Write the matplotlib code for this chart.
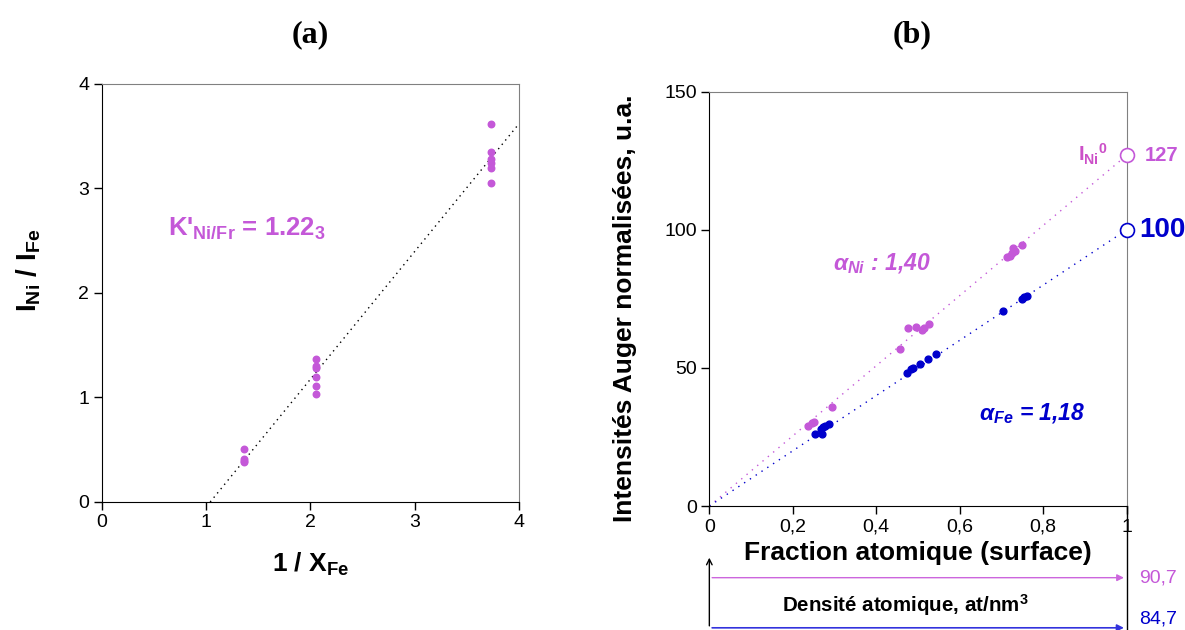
import matplotlib

matplotlib.use("Agg")
import matplotlib.pyplot as plt

plt.rcParams['font.family'] = ['Liberation Sans', 'DejaVu Sans']
plt.rcParams['mathtext.default'] = 'regular'

MAGENTA = '#c458d8'
PINK = '#cc50c8'
BLUE = '#0000cc'
GRAY = '#808080'

# panel (a): I_Ni / I_Fe against 1 / X_Fe
inv_x_fe = [1.36, 1.36, 1.36, 1.36,
            2.05, 2.05, 2.05, 2.05, 2.05, 2.05,
            3.73, 3.73, 3.73, 3.73, 3.73, 3.73]
ratio_ni_fe = [0.51, 0.41, 0.39, 0.38,
               1.37, 1.30, 1.28, 1.20, 1.11, 1.03,
               3.62, 3.35, 3.28, 3.24, 3.20, 3.05]
fit_x = [1.04, 4.0]
fit_y = [0.0, 3.62]

# panel (b): normalised Auger intensities against surface atomic fraction
ni_frac = [0.237, 0.245, 0.251, 0.295, 0.457, 0.476, 0.495, 0.509, 0.514,
           0.526, 0.714, 0.720, 0.726, 0.728, 0.732, 0.748]
ni_int = [29.1, 30.0, 30.6, 36.0, 57.0, 64.3, 64.8, 63.7, 64.3,
          65.8, 90.0, 90.6, 91.5, 93.3, 92.5, 94.5]
fe_frac = [0.252, 0.267, 0.270, 0.273, 0.277, 0.286, 0.473, 0.482, 0.489,
           0.505, 0.524, 0.543, 0.704, 0.748, 0.754, 0.760]
fe_int = [26.0, 27.8, 26.0, 28.6, 28.9, 29.6, 48.3, 49.5, 50.1,
          51.4, 53.3, 55.2, 70.7, 75.1, 75.6, 76.1]
line_x = [0.0, 1.0]
ni_line = [0.0, 127.0]
fe_line = [0.0, 100.0]
ni_pure = 127
fe_pure = 100
ni_density = '90,7'
fe_density = '84,7'

b_xticks = [0, 0.2, 0.4, 0.6, 0.8, 1]
b_xlabels = ['0', '0,2', '0,4', '0,6', '0,8', '1']
b_yticks = [0, 50, 100, 150]


def style_axes(ax):
    for side in ('top', 'right'):
        ax.spines[side].set_color(GRAY)
    ax.tick_params(direction='out', length=6, width=1, labelsize=14,
                   top=False, right=False, pad=3)


fig = plt.figure(figsize=(11.85, 6.3), dpi=100)

# ---- (a)
ax1 = fig.add_axes([0.0858, 0.2032, 0.3522, 0.6635])
style_axes(ax1)
ax1.plot(fit_x, fit_y, color='black', lw=1, linestyle=(0, (1, 3)))
ax1.scatter(inv_x_fe, ratio_ni_fe, s=22, color=MAGENTA, zorder=3)
ax1.set_xlim(0, 4)
ax1.set_ylim(0, 4)
ax1.set_xticks(range(5))
ax1.set_yticks(range(5))
ax1.set_xlabel('1 / X$_{Fe}$', fontsize=19, fontweight='bold', labelpad=14)
ax1.set_ylabel('I$_{Ni}$ / I$_{Fe}$', fontsize=20, fontweight='bold')
ax1.yaxis.set_label_coords(-0.141, 0.555)
ax1.text(0.64, 2.555, "K'$_{Ni/Fr}$ = 1.22$_3$", color=MAGENTA,
         fontsize=18.5, fontweight='bold', ha='left', va='baseline')

# ---- (b)
ax2 = fig.add_axes([0.5986, 0.1968, 0.3522, 0.6576])
style_axes(ax2)
ax2.plot(line_x, ni_line, color=MAGENTA, lw=1, linestyle=(0, (1, 4)))
ax2.plot(line_x, fe_line, color=BLUE, lw=1, linestyle=(0, (1, 4)))
ax2.scatter(ni_frac, ni_int, s=24, color=MAGENTA, zorder=3)
ax2.scatter(fe_frac, fe_int, s=24, color=BLUE, zorder=3)
ax2.plot([1], [ni_pure], 'o', ms=10, mfc='white', mec=MAGENTA, mew=1.2,
         clip_on=False, zorder=4)
ax2.plot([1], [fe_pure], 'o', ms=10, mfc='white', mec=BLUE, mew=1.2,
         clip_on=False, zorder=4)
ax2.set_xlim(0, 1)
ax2.set_ylim(0, 150)
ax2.set_xticks(b_xticks)
ax2.set_xticklabels(b_xlabels)
ax2.set_yticks(b_yticks)
ax2.set_xlabel('Fraction atomique (surface)', fontsize=19,
               fontweight='bold', labelpad=4)
ax2.set_ylabel('Intensités Auger normalisées, u.a.', fontsize=19,
               fontweight='bold')
ax2.yaxis.set_label_coords(-0.173, 0.478)

ax2.text(0.296, 85.4, 'α$_{Ni}$ : 1,40', color=MAGENTA, fontsize=16.5,
         fontweight='bold', style='italic', ha='left', va='baseline')
ax2.text(0.647, 31.1, 'α$_{Fe}$ = 1,18', color=BLUE, fontsize=16.5,
         fontweight='bold', style='italic', ha='left', va='baseline')
ax2.text(0.955, 124.7, 'I$_{Ni}$$^0$', color=PINK, fontsize=14.5,
         fontweight='bold', ha='right', va='baseline')
ax2.text(1.044, ni_pure, str(ni_pure), color=MAGENTA, fontsize=14.5,
         fontweight='bold', ha='left', va='center', clip_on=False)
ax2.text(1.03, fe_pure, str(fe_pure), color=BLUE, fontsize=20,
         fontweight='bold', ha='left', va='center', clip_on=False)

# density scale below panel (b)
xa = ax2.get_xaxis_transform()
ax2.plot([1, 1], [0, -0.3], color='black', lw=1, transform=xa, clip_on=False)
ax2.annotate('', xy=(0, -0.118), xytext=(0, -0.296), xycoords=xa,
             textcoords=xa, annotation_clip=False,
             arrowprops=dict(arrowstyle='->', color='black', lw=1))
ax2.annotate('', xy=(1, -0.173), xytext=(0, -0.173), xycoords=xa,
             textcoords=xa, annotation_clip=False,
             arrowprops=dict(arrowstyle='-|>', color='#cc66dd', lw=1))
ax2.annotate('', xy=(1, -0.294), xytext=(0, -0.294), xycoords=xa,
             textcoords=xa, annotation_clip=False,
             arrowprops=dict(arrowstyle='-|>', color='#3333dd', lw=1.2))
ax2.text(1.03, -0.173, ni_density, color=MAGENTA, fontsize=14,
         transform=xa, ha='left', va='center', clip_on=False)
ax2.text(1.03, -0.272, fe_density, color=BLUE, fontsize=14,
         transform=xa, ha='left', va='center', clip_on=False)
ax2.text(0.47, -0.238, 'Densité atomique, at/nm$^3$', color='black',
         fontsize=14.8, fontweight='bold', transform=xa, ha='center',
         va='center')

fig.text(310 / 1185, 1 - 35 / 630, '(a)', family='Liberation Serif',
         fontsize=23, fontweight='bold', ha='center', va='center')
fig.text(912 / 1185, 1 - 35 / 630, '(b)', family='Liberation Serif',
         fontsize=23, fontweight='bold', ha='center', va='center')

fig.savefig('out.png', dpi=100)
plt.close(fig)
